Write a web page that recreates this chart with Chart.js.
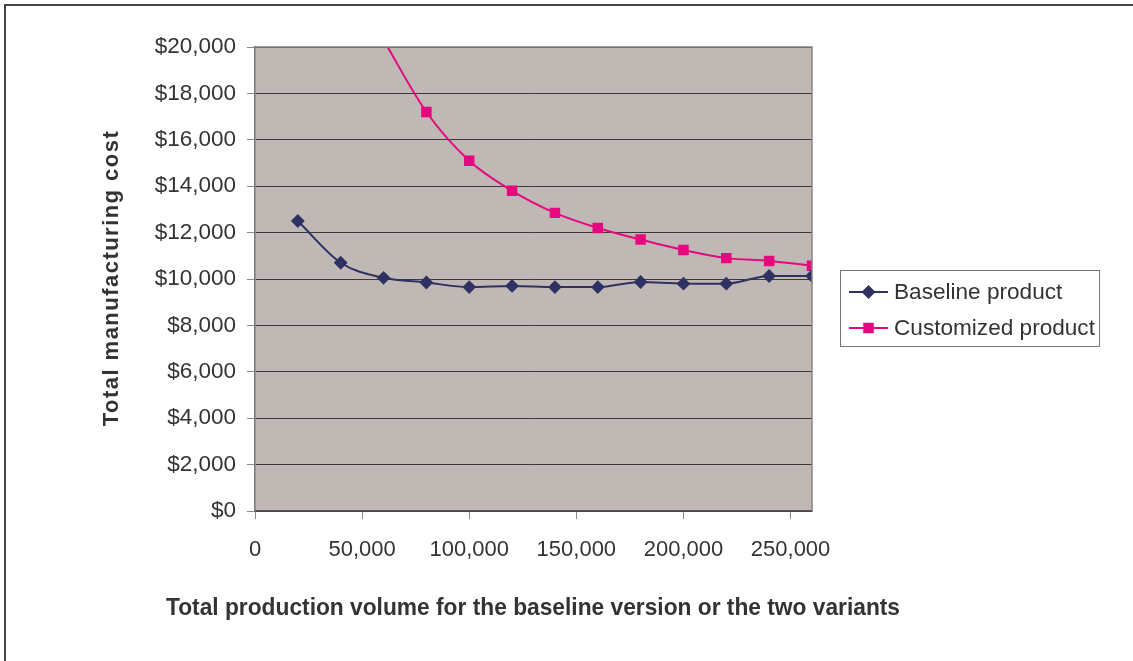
<!DOCTYPE html>
<html>
<head>
<meta charset="utf-8">
<script src="https://cdn.jsdelivr.net/npm/chart.js@4.4.1/dist/chart.umd.min.js"></script>
<style>
  body { margin: 0; background: #fff; }
  #wrap { width: 1133px; height: 661px; }
</style>
</head>
<body>
<div id="wrap"><canvas id="chart" width="1133" height="661"></canvas></div>
<script>
// production volume (x) and cost per series
const volumes = [20000, 40000, 60000, 80000, 100000, 120000, 140000, 160000, 180000, 200000, 220000, 240000, 260000];
const baseline = [12500, 10700, 10050, 9850, 9650, 9700, 9650, 9650, 9870, 9800, 9800, 10130, 10130];
// first two customized points fall off the top of the chart
const customized = [null, null, 20300, 17200, 15100, 13800, 12850, 12200, 11700, 11250, 10900, 10780, 10570];
const seriesNames = ["Baseline product", "Customized product"];
const xTicks = [0, 50000, 100000, 150000, 200000, 250000];
const yTicks = [0, 2000, 4000, 6000, 8000, 10000, 12000, 14000, 16000, 18000, 20000];
const yTitle = "Total manufacturing cost";
const xTitle = "Total production volume for the baseline version or the two variants";

const FONT = "'Liberation Sans', Arial, sans-serif";
const TEXT = "#333333";

const toPoints = (vals) => volumes.map((v, i) => ({ x: v, y: vals[i] }));

const decor = {
  id: "decor",
  beforeDraw(chart) {
    const { ctx, chartArea: a } = chart;
    ctx.save();
    ctx.fillStyle = "#c0b8b5";
    ctx.fillRect(a.left, a.top, a.right - a.left, a.bottom - a.top);
    ctx.restore();
  },
  afterDatasetsDraw(chart) {
    const { ctx, chartArea: a } = chart;
    ctx.save();
    ctx.strokeStyle = "#8a8282";
    ctx.lineWidth = 1.5;
    ctx.beginPath();
    ctx.moveTo(a.left, a.top);
    ctx.lineTo(a.right, a.top);
    ctx.lineTo(a.right, a.bottom);
    ctx.stroke();
    ctx.restore();
  },
  afterDraw(chart) {
    const ctx = chart.ctx;
    ctx.save();
    // outer frame (top + left only visible)
    ctx.strokeStyle = "#444";
    ctx.lineWidth = 2;
    ctx.beginPath();
    ctx.moveTo(1133, 5);
    ctx.lineTo(5, 5);
    ctx.lineTo(5, 661);
    ctx.stroke();

    // axis titles
    ctx.fillStyle = TEXT;
    ctx.textAlign = "center";
    ctx.textBaseline = "middle";
    ctx.font = "bold 24px " + FONT;
    ctx.fillText(xTitle, 533, 608, 734);

    ctx.font = "bold 22px " + FONT;
    const w = ctx.measureText(yTitle).width;
    ctx.letterSpacing = Math.max(0, (295 - w) / (yTitle.length - 1)) + "px";
    ctx.translate(112, 278);
    ctx.rotate(-Math.PI / 2);
    ctx.fillText(yTitle, 0, 0);
    ctx.restore();

    // legend
    ctx.save();
    ctx.strokeStyle = "#777";
    ctx.lineWidth = 1;
    ctx.strokeRect(840.5, 270.5, 259, 76);
    ctx.font = "22.6px " + FONT;
    ctx.textBaseline = "middle";
    const rows = [292, 328];
    chart.data.datasets.forEach((ds, i) => {
      const y = rows[i];
      ctx.strokeStyle = ds.borderColor;
      ctx.lineWidth = 2;
      ctx.beginPath();
      ctx.moveTo(849, y);
      ctx.lineTo(888, y);
      ctx.stroke();
      ctx.fillStyle = ds.pointBackgroundColor;
      ctx.strokeStyle = ds.pointBorderColor;
      Chart.helpers.drawPoint(ctx, {
        pointStyle: ds.pointStyle,
        radius: ds.pointRadius,
        rotation: 0,
        borderWidth: 1
      }, 868.5, y);
      ctx.fillStyle = TEXT;
      ctx.fillText(ds.label, 894, y + 1);
    });
    ctx.restore();
  }
};

new Chart(document.getElementById("chart"), {
  type: "line",
  data: {
    datasets: [
      {
        label: seriesNames[0],
        data: toPoints(baseline),
        borderColor: "#2f3163",
        backgroundColor: "#2f3163",
        pointBackgroundColor: "#2f3163",
        pointBorderColor: "#2f3163",
        pointStyle: "rectRot",
        pointRadius: 5.5,
        borderWidth: 2,
        cubicInterpolationMode: "monotone",
        clip: 0
      },
      {
        label: seriesNames[1],
        data: toPoints(customized),
        borderColor: "#e6087f",
        backgroundColor: "#e6087f",
        pointBackgroundColor: "#e6087f",
        pointBorderColor: "#e6087f",
        pointStyle: "rect",
        pointRadius: 6,
        borderWidth: 2,
        cubicInterpolationMode: "monotone",
        clip: 0
      }
    ]
  },
  options: {
    responsive: false,
    animation: false,
    layout: { padding: { top: 47, right: 321, bottom: 0, left: 0 } },
    plugins: {
      legend: { display: false },
      tooltip: { enabled: false }
    },
    scales: {
      x: {
        type: "linear",
        min: 0,
        max: 260000,
        afterFit: (s) => { s.height = 150; },
        afterBuildTicks: (s) => { s.ticks = xTicks.map((v) => ({ value: v })); },
        ticks: {
          padding: 18,
          color: TEXT,
          font: { family: FONT, size: 22 },
          maxRotation: 0,
          autoSkip: false,
          callback: (v) => v.toLocaleString("en-US")
        },
        grid: { drawOnChartArea: false, tickLength: 8, tickColor: "#888", color: "#888" },
        border: { color: "#555", width: 1.5 }
      },
      y: {
        min: 0,
        max: 20000,
        afterFit: (s) => { s.width = 255; },
        afterBuildTicks: (s) => { s.ticks = yTicks.map((v) => ({ value: v })); },
        ticks: {
          padding: 11,
          color: TEXT,
          font: { family: FONT, size: 22.5 },
          autoSkip: false,
          callback: (v) => "$" + v.toLocaleString("en-US")
        },
        grid: { color: "#3a3a3a", lineWidth: 1, tickLength: 8, tickColor: "#888" },
        border: { color: "#777", width: 1.5 }
      }
    }
  },
  plugins: [decor]
});
</script>
</body>
</html>
